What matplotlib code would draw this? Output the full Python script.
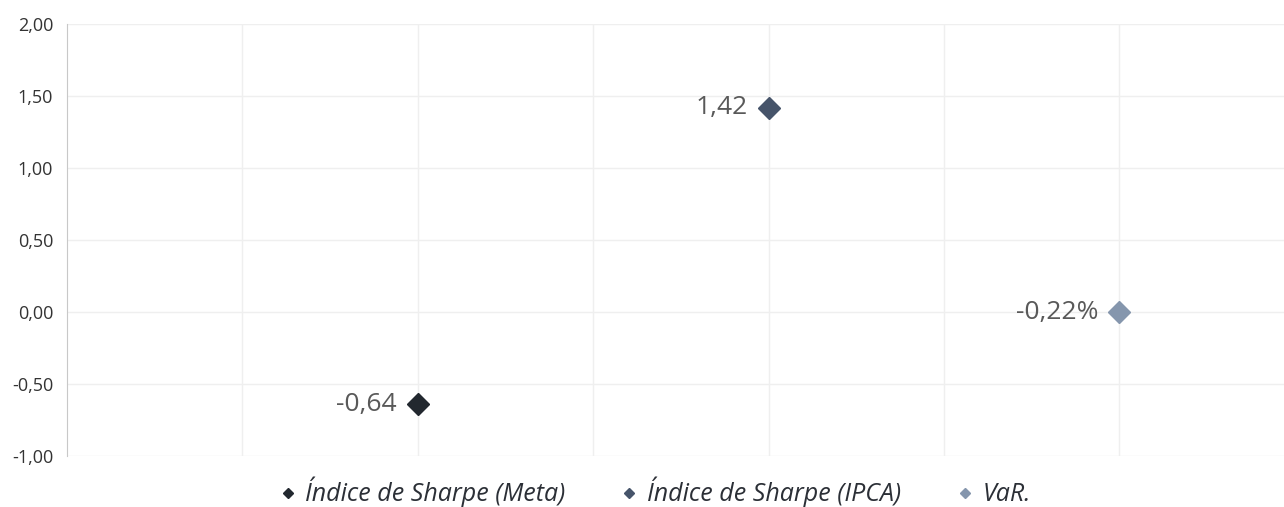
import matplotlib.pyplot as plt
from matplotlib.ticker import FuncFormatter

#--------------------
# data

series_names = ['Índice de Sharpe (Meta)', 'Índice de Sharpe (IPCA)', 'VaR.']
x_pos = [2, 4, 6]
y_vals = [-0.64, 1.42, 0.0]
point_labels = ['-0,64', '1,42', '-0,22%']
colors = ['#22282f', '#46546a', '#8596ad']

y_ticks = [-1.0, -0.5, 0.0, 0.5, 1.0, 1.5, 2.0]

#--------------------
# drawing

plt.rcParams['font.family'] = ['Open Sans', 'DejaVu Sans']

fig = plt.figure(figsize=(12.84, 5.07), dpi=100, facecolor='w')
ax = fig.add_axes([67 / 1284, 51 / 507, 7 * 175.4 / 1284, 432 / 507])

for name, x, y, lab, c in zip(series_names, x_pos, y_vals, point_labels, colors):
    ax.plot([x], [y], linestyle='none', marker='D', markersize=11,
            color=c, label=name, zorder=3)
    ax.annotate(lab, (x, y), xytext=(-15, 0), textcoords='offset points',
                ha='right', va='center', fontsize=19, color='#595959')

ax.set_xlim(0, 7)
ax.set_ylim(-1, 2)
ax.set_yticks(y_ticks)
ax.yaxis.set_major_formatter(FuncFormatter(lambda v, p: f'{v:.2f}'.replace('.', ',')))
ax.set_xticks(range(1, 7))
ax.tick_params(axis='x', length=0, labelbottom=False)
ax.tick_params(axis='y', length=0, labelsize=13, labelcolor='#333333', pad=10)
for t in ax.get_yticklabels():
    t.set_fontweight('medium')

ax.grid(True, color='#efefef', linewidth=1)
ax.set_axisbelow(True)
for s in ['top', 'right', 'bottom']:
    ax.spines[s].set_visible(False)
ax.spines['left'].set_color('#c8c8c8')

leg = fig.legend(loc='lower center', bbox_to_anchor=(0.51, -0.045), ncol=3,
                 frameon=False, markerscale=0.5, handlelength=0.7,
                 handletextpad=0.35, columnspacing=2.2,
                 prop={'style': 'italic', 'size': 18})
for t in leg.get_texts():
    t.set_color('#2b2f36')

fig.savefig('out.png', dpi=100)
